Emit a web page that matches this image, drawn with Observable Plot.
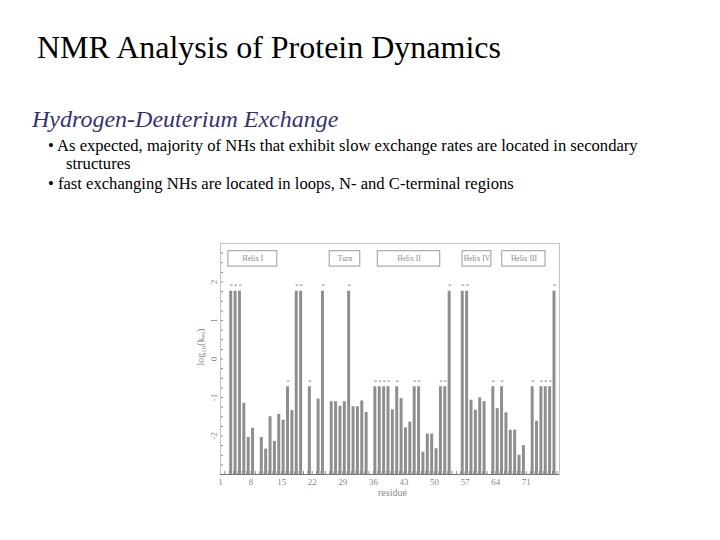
<!DOCTYPE html>
<html>
<head>
<meta charset="utf-8">
<script src="https://cdn.jsdelivr.net/npm/d3@7"></script>
<script src="https://cdn.jsdelivr.net/npm/@observablehq/plot@0.6"></script>
<style>
  html, body { margin: 0; padding: 0; background: #fff; }
  body { width: 720px; height: 540px; position: relative; overflow: hidden; font-family: "Liberation Serif", "DejaVu Serif", serif; }
  .t { position: absolute; white-space: nowrap; line-height: 1; }
  #title { left: 37px; top: 31px; font-size: 32px; color: #000; }
  #sub { left: 32px; top: 107px; font-size: 24px; font-style: italic; color: #333370; }
  .b { font-size: 16.6px; color: #000; }
  #chart { position: absolute; left: 190px; top: 235px; }
  .ax { position: absolute; font-size: 10px; color: #888; line-height: 1; white-space: nowrap; }
</style>
</head>
<body>
<div class="t" id="title">NMR Analysis of Protein Dynamics</div>
<div class="t" id="sub">Hydrogen-Deuterium Exchange</div>
<div class="t b" style="left:48px; top:138px;">• As expected, majority of NHs that exhibit slow exchange rates are located in secondary</div>
<div class="t b" style="left:66px; top:156px;">structures</div>
<div class="t b" style="left:48px; top:176px;">• fast exchanging NHs are located in loops, N- and C-terminal regions</div>
<div id="chart"></div>
<div class="ax" style="left:201px; top:347px; transform: translate(-50%, -50%) rotate(-90deg);">log₁₀(kₑₓ)</div>
<div class="ax" style="left:378px; top:488px;">residue</div>
<script>
// Residue numbers with measured exchange data
const residues = [3,4,5,6,7,8,10,11,12,13,14,15,16,17,18,19,21,23,24,26,27,28,29,30,31,32,33,34,
  36,37,38,39,40,41,42,43,44,45,46,47,48,49,50,51,52,53,56,57,58,59,60,61,63,64,65,66,67,68,69,70,
  72,73,74,75,76,77];
// log10(kex) values
const logKex = [1.76,1.76,1.76,-1.15,-2.04,-1.8,-2.04,-2.34,-1.5,-2.14,-1.44,-1.59,-0.72,-1.34,1.76,1.76,-0.72,-1.04,1.76,-1.11,-1.11,-1.23,-1.11,1.76,-1.24,-1.24,-1.09,-1.39,
  -0.72,-0.72,-0.72,-0.72,-1.32,-0.72,-1.03,-1.79,-1.64,-0.72,-0.72,-2.42,-1.95,-1.95,-2.33,-0.72,-0.72,1.76,1.76,1.76,-1.07,-1.33,-1.01,-1.11,-0.72,-1.29,-0.72,-1.40,-1.85,-1.85,-2.5,-2.25,
  -0.72,-1.62,-0.72,-0.72,-0.72,1.76];
// residues marked with an asterisk (limit values)
const starred = [3,4,5,16,18,19,21,24,30,36,37,38,39,41,45,46,51,52,53,56,57,63,65,72,74,75,76,77];

// Secondary-structure labels
const structNames = ["Helix I", "Turn", "Helix II", "Helix IV", "Helix III"];
const structStart = [2.8, 26, 37, 56.4, 65.5];
const structEnd = [14, 33, 51.3, 63, 75.4];
const structBox = [2.4, 2.8];

// Axis settings
const xDomain = [1, 78.6];
const yDomain = [-3, 3];
const xTickLabels = [1, 8, 15, 22, 29, 36, 43, 50, 57, 64, 71];
const yTickLabels = [-2, -1, 0, 1, 2];

const bars = residues.map((r, i) => ({res: r, val: logKex[i], star: starred.includes(r)}));
const structs = structNames.map((n, i) => ({name: n, start: structStart[i], end: structEnd[i]}));

const xTicks = d3.range(1, 79);
const yTicks = d3.range(-12, 13).map(k => k / 4);

const chart = Plot.plot({
  width: 380,
  height: 270,
  marginLeft: 30,
  marginTop: 8,
  marginBottom: 31,
  marginRight: 11,
  style: {fontFamily: "Liberation Serif, serif", fontSize: "9px", color: "#888", background: "transparent"},
  x: {domain: xDomain, ticks: xTicks, tickFormat: d => xTickLabels.includes(d) ? String(d) : "", tickSize: -3, tickPadding: 7, label: null},
  y: {domain: yDomain, ticks: yTicks, tickFormat: d => yTickLabels.includes(d) ? String(d) : "", tickSize: -3, tickPadding: 7, tickRotate: -90, label: null},
  marks: [
    Plot.frame({stroke: "#c4c4c4"}),
    Plot.rectY(bars, {x: "res", interval: 1, y1: yDomain[0], y2: "val", fill: "#8e8e8e", insetLeft: 0.5, insetRight: 0.9}),
    Plot.text(bars.filter(d => d.star), {x: "res", y: "val", text: () => "*", dx: 2, dy: -5, fontSize: 7, fill: "#888"}),
    Plot.rect(structs, {x1: "start", x2: "end", y1: structBox[0], y2: structBox[1], fill: "#fff", stroke: "#9a9a9a"}),
    Plot.text(structs, {x: d => (d.start + d.end) / 2, y: (structBox[0] + structBox[1]) / 2, text: "name", fontSize: 7.5, fill: "#888"}),
    Plot.ruleY([yDomain[0]], {stroke: "#777"})
  ]
});
document.getElementById("chart").appendChild(chart);
</script>
</body>
</html>
